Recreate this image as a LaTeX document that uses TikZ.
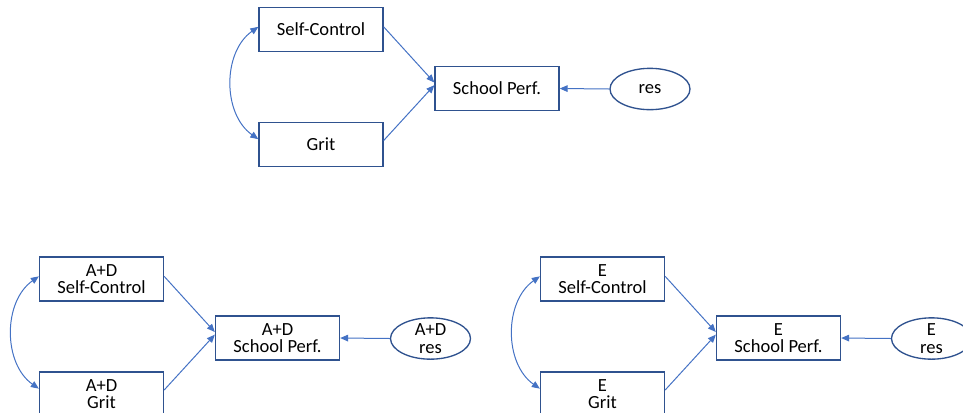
\documentclass[tikz,border=0pt]{standalone}
\usepackage{fontspec}
\setmainfont{Carlito}
\usetikzlibrary{arrows.meta,shapes.geometric}
\definecolor{boxblue}{HTML}{2F528F}
\definecolor{lineblue}{HTML}{4472C4}
\tikzset{
    measured/.style ={
        shape=rectangle,
        draw=boxblue,
        line width=1pt,
        align=center,
        inner sep=0pt,
        minimum width=93pt,
        minimum height=33pt,
        font=\fontsize{13.9}{13}\selectfont
    },
    resid/.style ={
        shape=ellipse,
        draw=boxblue,
        line width=1pt,
        align=center,
        inner sep=-5pt,
        minimum width=60pt,
        minimum height=31pt,
        font=\fontsize{13.9}{13}\selectfont
    },
    link/.style ={
        draw=lineblue,
        line width=0.75pt,
        -{Triangle[length=6pt,width=5pt]}
    },
    covar/.style ={
        draw=lineblue,
        line width=0.75pt,
        {Triangle[length=6pt,width=5pt]}-{Triangle[length=6pt,width=5pt]}
    }
}

\begin{document}
\begin{tikzpicture}[x=0.75pt,y=-0.75pt]
    \useasboundingbox (0,0) rectangle (963,412);
    % total model
    \node[measured] (sc) at(321,29.5) {Self-Control};
    \node[measured] (grit) at(321,144.5) {Grit};
    \node[measured] (sp) at(497,88.5) {School Perf.};
    \node[resid] (res) at(650,89) {res};
    \draw[link] ([yshift=2pt]sc.east) -- ([yshift=4.5pt]sp.west);
    \draw[link] ([yshift=3pt]grit.east) -- ([yshift=2.5pt]sp.west);
    \draw[link] (res.west) -- (sp.east);
    \draw[covar] ([yshift=2pt]sc.west) to[bend right=55] ([yshift=4pt]grit.west);
    % A+D part
    \node[measured] (adsc) at(101.5,279) {A+D\\Self-Control};
    \node[measured] (adgrit) at(101.5,394) {A+D\\Grit};
    \node[measured] (adsp) at(277.5,338) {A+D\\School Perf.};
    \node[resid] (adres) at(430.5,338.5) {A+D\\res};
    \draw[link] ([yshift=2pt]adsc.east) -- ([yshift=4.5pt]adsp.west);
    \draw[link] ([yshift=3pt]adgrit.east) -- ([yshift=2.5pt]adsp.west);
    \draw[link] (adres.west) -- (adsp.east);
    \draw[covar] ([yshift=2pt]adsc.west) to[bend right=55] ([yshift=4pt]adgrit.west);
    % E part
    \node[measured] (esc) at(602.5,279) {E\\Self-Control};
    \node[measured] (egrit) at(602.5,394) {E\\Grit};
    \node[measured] (esp) at(778.5,338) {E\\School Perf.};
    \node[resid] (eres) at(931.5,338.5) {E\\res};
    \draw[link] ([yshift=2pt]esc.east) -- ([yshift=4.5pt]esp.west);
    \draw[link] ([yshift=3pt]egrit.east) -- ([yshift=2.5pt]esp.west);
    \draw[link] (eres.west) -- (esp.east);
    \draw[covar] ([yshift=2pt]esc.west) to[bend right=55] ([yshift=4pt]egrit.west);
\end{tikzpicture}
\end{document}
